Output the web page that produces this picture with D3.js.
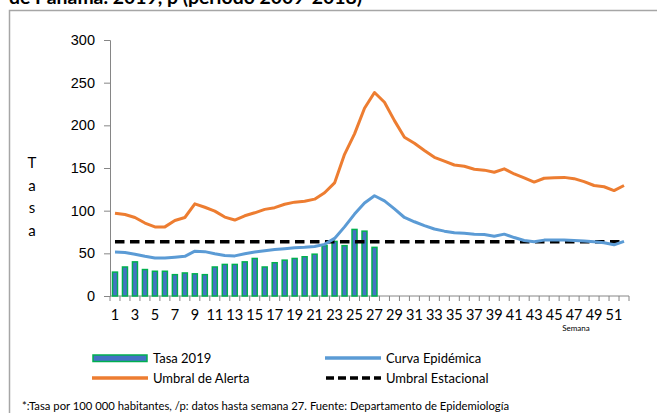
<!DOCTYPE html>
<html>
<head>
<meta charset="utf-8">
<script src="https://cdn.jsdelivr.net/npm/d3@7"></script>
<style>
  body { margin: 0; background: #fff; }
  svg { display: block; font-family: Lato, "Open Sans", sans-serif; }
</style>
</head>
<body>
<div id="chart"></div>
<script>
// semanas 1..52
var weeks = d3.range(1, 53);

// Tasa 2019 (datos hasta semana 27)
var tasa2019 = [28, 34, 40, 31, 29, 29, 25, 27, 26, 25,
  34, 37, 37, 40, 44, 34, 39, 42, 44, 46,
  49, 59, 64, 59, 78, 76, 57];

var curvaEpidemica = [51.5, 51, 49, 46.5, 44.5, 44.5, 45.5, 46.5, 52.5, 52,
  49.5, 47.5, 47, 49.5, 51.5, 53, 54.5, 55.5, 56.5, 57,
  58, 60.5, 67.5, 81, 96, 109, 117.5, 111.5, 102, 92,
  87, 82.5, 78.5, 76, 74, 73.5, 72.5, 72, 70, 72.5,
  68.5, 65, 63.5, 65.5, 65.5, 65.5, 65, 64.5, 63.5, 62.5,
  60, 64];

var umbralAlerta = [97, 95.5, 92, 85.5, 81, 81, 88.5, 92, 108, 104,
  99.5, 92.5, 89, 94, 97.5, 101.5, 103.5, 107.5, 110, 111,
  113.5, 121, 132.5, 166, 190, 220, 238.5, 227, 205.5, 186,
  179, 170.5, 162.5, 158, 153.5, 152, 148.5, 147.5, 145, 149,
  143, 138.5, 133.5, 138, 138.5, 139, 137.5, 134, 129.5, 128,
  123.5, 129.5];

var umbralEstacional = weeks.map(function() { return 63.5; });

var yTicks = [0, 50, 100, 150, 200, 250, 300];

var width = 657, height = 413;
var margin = { top: 40, right: 28, bottom: 117, left: 110 };

var svg = d3.select("#chart").append("svg")
  .attr("width", width)
  .attr("height", height);

// marco
svg.append("rect")
  .attr("x", 9.5).attr("y", 10.5)
  .attr("width", 660).attr("height", 420)
  .attr("fill", "none")
  .attr("stroke", "#a6a6a6")
  .attr("stroke-width", 1.5);

// titulo (cortado arriba, como en el original)
svg.append("text")
  .attr("x", 9).attr("y", 4)
  .attr("font-weight", "bold")
  .attr("font-size", 18)
  .attr("textLength", 353)
  .attr("lengthAdjust", "spacingAndGlyphs")
  .attr("fill", "#000")
  .text("de Panamá. 2019, p (período 2009-2018)");

var x = d3.scaleBand()
  .domain(weeks)
  .range([margin.left, width - margin.right]);

var y = d3.scaleLinear()
  .domain([0, 300])
  .range([height - margin.bottom, margin.top]);

// eje y
var yAxis = svg.append("g")
  .attr("transform", "translate(" + margin.left + ",0)")
  .call(d3.axisLeft(y).tickValues(yTicks).tickSize(6).tickPadding(9));
yAxis.select(".domain").attr("stroke", "#868686");
yAxis.selectAll(".tick line").attr("stroke", "#868686");
yAxis.selectAll(".tick text").attr("font-size", 14.5).attr("fill", "#000");

// eje x
var y0 = y(0);
var xAxis = svg.append("g")
  .attr("transform", "translate(0," + y0 + ")");
xAxis.append("line")
  .attr("x1", margin.left).attr("x2", width - margin.right)
  .attr("stroke", "#868686");
xAxis.selectAll(".tk")
  .data(weeks.concat([53]))
  .enter().append("line")
  .attr("x1", function(d) { return d === 53 ? x.range()[1] : x(d); })
  .attr("x2", function(d) { return d === 53 ? x.range()[1] : x(d); })
  .attr("y1", 0).attr("y2", 5)
  .attr("stroke", "#868686");
xAxis.selectAll(".lbl")
  .data(weeks.filter(function(d) { return d % 2 === 1; }))
  .enter().append("text")
  .attr("x", function(d) { return x(d) + x.bandwidth() / 2; })
  .attr("y", 24)
  .attr("text-anchor", "middle")
  .attr("font-size", 14.5)
  .text(function(d) { return d; });

svg.append("text")
  .attr("x", 576).attr("y", 331)
  .attr("text-anchor", "middle")
  .attr("font-size", 8)
  .text("Semana");

// etiqueta vertical
["T", "a", "s", "a"].forEach(function(c, i) {
  svg.append("text")
    .attr("x", 32).attr("y", 168 + i * 22.5)
    .attr("text-anchor", "middle")
    .attr("font-size", 15)
    .text(c);
});

// barras
var barW = 5;
svg.append("g").selectAll("rect")
  .data(tasa2019)
  .enter().append("rect")
  .attr("x", function(d, i) { return x(weeks[i]) + (x.bandwidth() - barW) / 2; })
  .attr("y", function(d) { return y(d); })
  .attr("width", barW)
  .attr("height", function(d) { return y0 - y(d); })
  .attr("fill", "#4472c4")
  .attr("stroke", "#00b050")
  .attr("stroke-width", 1.5);

var line = d3.line()
  .x(function(d, i) { return x(weeks[i]) + x.bandwidth() / 2; })
  .y(function(d) { return y(d); });

svg.append("path")
  .datum(umbralEstacional)
  .attr("d", line)
  .attr("fill", "none")
  .attr("stroke", "#000")
  .attr("stroke-width", 3.5)
  .attr("stroke-dasharray", "9.5,5.5");

svg.append("path")
  .datum(curvaEpidemica)
  .attr("d", line)
  .attr("fill", "none")
  .attr("stroke", "#5b9bd5")
  .attr("stroke-width", 3)
  .attr("stroke-linejoin", "round");

svg.append("path")
  .datum(umbralAlerta)
  .attr("d", line)
  .attr("fill", "none")
  .attr("stroke", "#ed7d31")
  .attr("stroke-width", 3)
  .attr("stroke-linejoin", "round");

// leyenda
var legend = svg.append("g").attr("font-size", 13);

legend.append("rect")
  .attr("x", 93).attr("y", 355).attr("width", 54).attr("height", 6.5)
  .attr("fill", "#4472c4").attr("stroke", "#00b050").attr("stroke-width", 1.5);
legend.append("text").attr("x", 153).attr("y", 363).text("Tasa 2019");

legend.append("line")
  .attr("x1", 92).attr("x2", 148).attr("y1", 378).attr("y2", 378)
  .attr("stroke", "#ed7d31").attr("stroke-width", 3.5);
legend.append("text").attr("x", 153).attr("y", 383).text("Umbral de Alerta");

legend.append("line")
  .attr("x1", 325).attr("x2", 381).attr("y1", 358).attr("y2", 358)
  .attr("stroke", "#5b9bd5").attr("stroke-width", 3.5);
legend.append("text").attr("x", 386).attr("y", 363).text("Curva Epidémica");

legend.append("line")
  .attr("x1", 326).attr("x2", 381).attr("y1", 378).attr("y2", 378)
  .attr("stroke", "#000").attr("stroke-width", 3.5)
  .attr("stroke-dasharray", "8,4");
legend.append("text").attr("x", 386).attr("y", 383).text("Umbral Estacional");

// nota
svg.append("text")
  .attr("x", 22).attr("y", 409.5)
  .attr("font-size", 11)
  .attr("textLength", 487)
  .attr("lengthAdjust", "spacingAndGlyphs")
  .text("*:Tasa por 100 000 habitantes, /p: datos hasta semana 27. Fuente: Departamento de Epidemiología");
</script>
</body>
</html>
